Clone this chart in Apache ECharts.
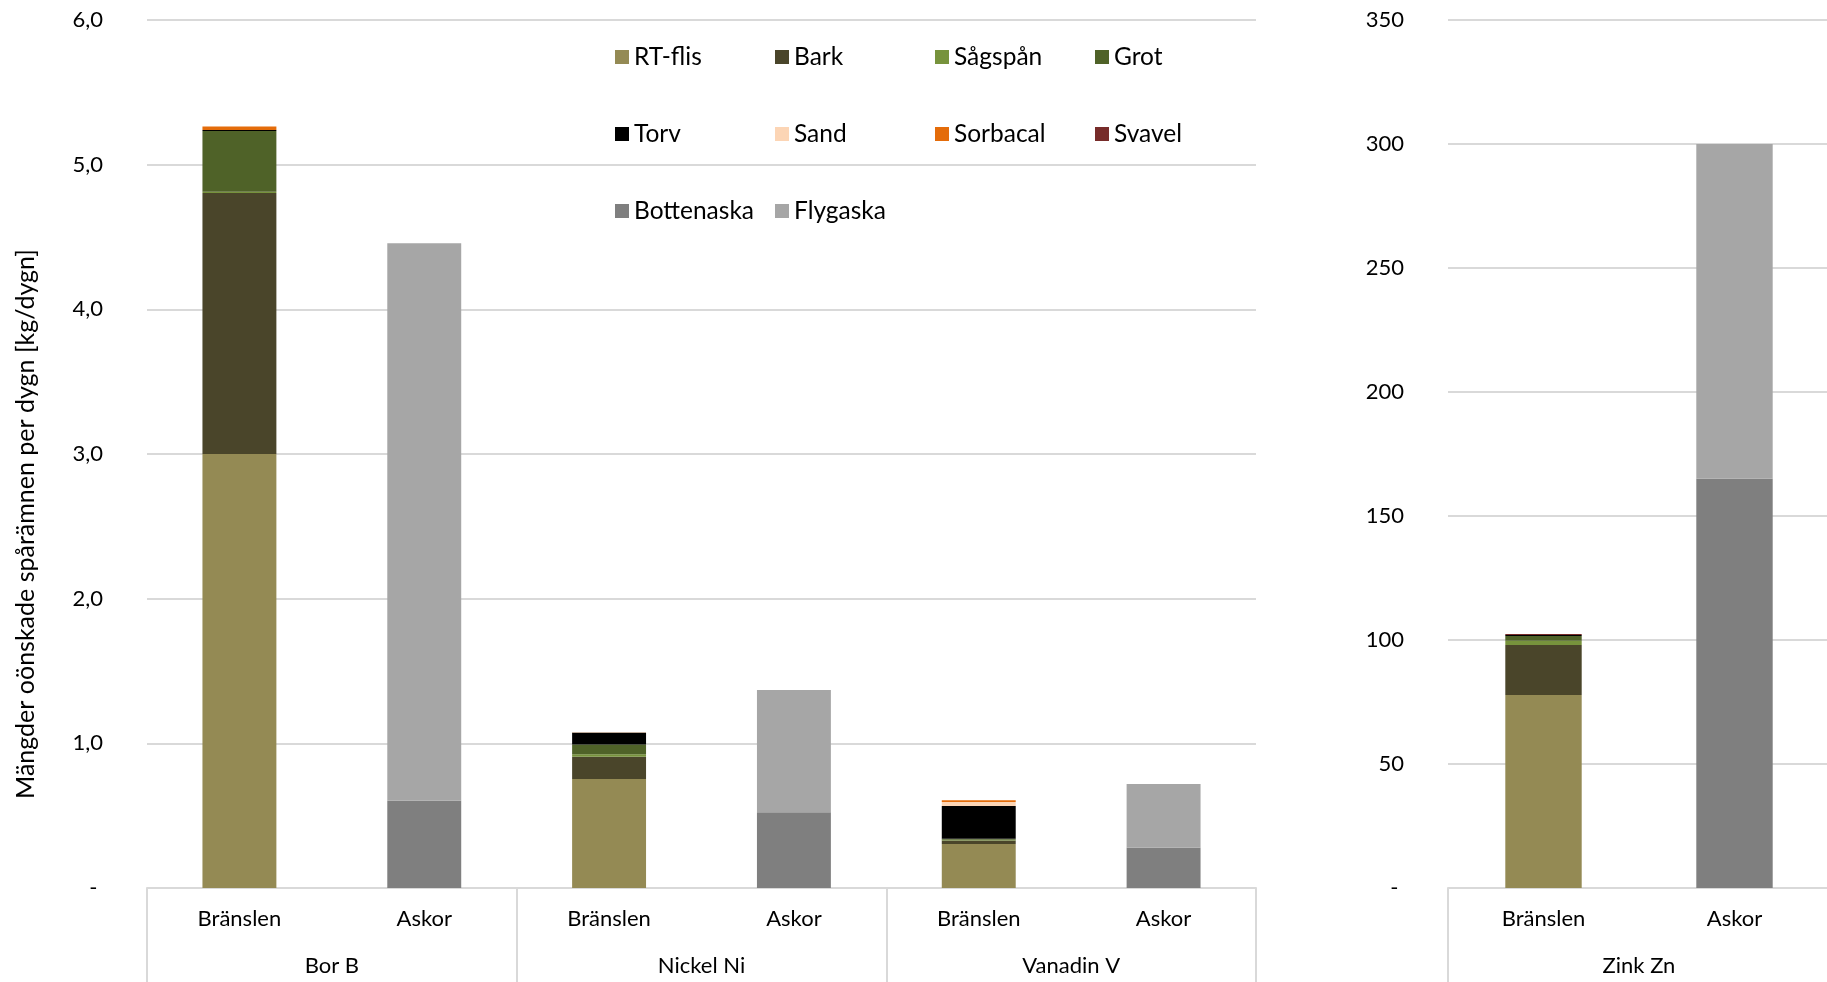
<!DOCTYPE html>
<html>
<head>
<meta charset="utf-8">
<style>
  html, body { margin: 0; padding: 0; background: #ffffff; }
  #chart { width: 1827px; height: 982px; }
</style>
<script src="https://cdn.jsdelivr.net/npm/echarts@6/dist/echarts.min.js"></script>
</head>
<body>
<div id="chart"></div>
<script>
// Trace elements per day [kg/dygn], fuels (Bränslen) vs ashes (Askor)
// Column order in every value array: Bor B (Br, Ask), Nickel Ni (Br, Ask), Vanadin V (Br, Ask), Zink Zn (Br, Ask)
const metals = ['Bor B', 'Nickel Ni', 'Vanadin V'];
const zincMetal = ['Zink Zn'];
const kinds = ['Bränslen', 'Askor'];

const rtFlis     = [3.00, 0, 0.753, 0, 0.304, 0, 77.8, 0];
const bark       = [1.805, 0, 0.154, 0, 0.025, 0, 20.2, 0];
const sagspan    = [0.007, 0, 0.018, 0, 0.004, 0, 1.7, 0];
const grot       = [0.42, 0, 0.067, 0, 0.008, 0, 1.9, 0];
const torv       = [0.008, 0, 0.083, 0, 0.225, 0, 0.4, 0];
const sand       = [0, 0, 0.003, 0, 0.028, 0, 0, 0];
const sorbacal   = [0.023, 0, 0, 0, 0.012, 0, 0, 0];
const svavel     = [0, 0, 0, 0, 0, 0, 0.4, 0];
const bottenaska = [0, 0.603, 0, 0.523, 0, 0.279, 0, 165];
const flygaska   = [0, 3.854, 0, 0.845, 0, 0.44, 0, 135];

const leftTicks = [0, 1, 2, 3, 4, 5, 6];
const rightTicks = [0, 50, 100, 150, 200, 250, 300, 350];

const seriesDefs = [
  { name: 'RT-flis',    data: rtFlis,     color: '#948A54' },
  { name: 'Bark',       data: bark,       color: '#4A452A' },
  { name: 'Sågspån',    data: sagspan,    color: '#77933C' },
  { name: 'Grot',       data: grot,       color: '#4F6228' },
  { name: 'Torv',       data: torv,       color: '#000000' },
  { name: 'Sand',       data: sand,       color: '#FCD5B5' },
  { name: 'Sorbacal',   data: sorbacal,   color: '#E46C0A' },
  { name: 'Svavel',     data: svavel,     color: '#772C2A' },
  { name: 'Bottenaska', data: bottenaska, color: '#7F7F7F' },
  { name: 'Flygaska',   data: flygaska,   color: '#A6A6A6' }
];

const FONT = 'Lato, "Open Sans", sans-serif';
const GRID_COLOR = '#d9d9d9';
const TXT = '#000000';

const leftCats = [];
metals.forEach(() => kinds.forEach(k => leftCats.push(k)));
const rightCats = kinds.slice();

function leftLabel(v) { return v === 0 ? '- ' : v.toFixed(1).replace('.', ','); }
function rightLabel(v) { return v === 0 ? '- ' : String(v); }

function catAxis(grid, cats) {
  return {
    type: 'category', gridIndex: grid, data: cats, position: 'bottom',
    axisLine: { show: true, lineStyle: { color: GRID_COLOR, width: 2 } },
    axisTick: { show: false },
    axisLabel: { color: TXT, fontSize: 22, fontFamily: FONT, margin: 20, interval: 0 }
  };
}
function groupAxis(grid, groups) {
  return {
    type: 'category', gridIndex: grid, data: groups, position: 'bottom',
    axisLine: { show: false },
    axisTick: { show: true, length: 96, interval: 0, lineStyle: { color: GRID_COLOR, width: 2 } },
    axisLabel: { color: TXT, fontSize: 22, fontFamily: FONT, margin: 67, interval: 0 }
  };
}
function valAxis(grid, ticks, fmt) {
  return {
    type: 'value', gridIndex: grid,
    min: ticks[0], max: ticks[ticks.length - 1], interval: ticks[1] - ticks[0],
    axisLine: { show: false }, axisTick: { show: false },
    splitLine: { show: true, lineStyle: { color: GRID_COLOR, width: 2 } },
    axisLabel: { color: TXT, fontSize: 22, fontFamily: FONT, margin: 44, formatter: fmt }
  };
}

const series = [];
seriesDefs.forEach(s => {
  series.push({
    name: s.name, type: 'bar', stack: 'left', xAxisIndex: 0, yAxisIndex: 0,
    barWidth: '40%', itemStyle: { color: s.color }, data: s.data.slice(0, 6)
  });
});
seriesDefs.forEach(s => {
  series.push({
    name: s.name, type: 'bar', stack: 'right', xAxisIndex: 2, yAxisIndex: 1,
    barWidth: '40%', itemStyle: { color: s.color }, data: s.data.slice(6, 8)
  });
});

// Legend laid out as a 4-column grid inside the left panel
const legendCols = [615, 775, 935, 1095];
const legendRows = [57, 134, 211];
const legends = seriesDefs.map((s, i) => ({
  data: [{ name: s.name, icon: 'rect' }],
  left: legendCols[i % 4],
  top: legendRows[Math.floor(i / 4)] - 13,
  padding: 0, itemGap: 0, itemWidth: 14, itemHeight: 14,
  textStyle: { color: TXT, fontSize: 24.5, fontFamily: FONT, lineHeight: 26 },
  selectedMode: true
}));

const option = {
  backgroundColor: '#ffffff',
  animation: false,
  textStyle: { fontFamily: FONT },
  grid: [
    { left: 147, width: 1109, top: 20, bottom: 94 },
    // the Zink panel runs slightly past the right edge of the canvas
    { left: 1448, width: 382, top: 20, bottom: 94, outerBoundsMode: 'none' }
  ],
  xAxis: [
    catAxis(0, leftCats),
    groupAxis(0, metals),
    catAxis(1, rightCats),
    groupAxis(1, zincMetal)
  ],
  yAxis: [
    valAxis(0, leftTicks, leftLabel),
    valAxis(1, rightTicks, rightLabel)
  ],
  legend: legends,
  graphic: [{
    type: 'text', x: 26, y: 524, rotation: Math.PI / 2,
    style: {
      text: 'Mängder oönskade spårämnen per dygn [kg/dygn]',
      fill: TXT, fontSize: 25, fontFamily: FONT,
      align: 'center', verticalAlign: 'middle'
    }
  }],
  series: series
};

const chart = echarts.init(document.getElementById('chart'), null, { renderer: 'canvas' });
chart.setOption(option);
</script>
</body>
</html>
